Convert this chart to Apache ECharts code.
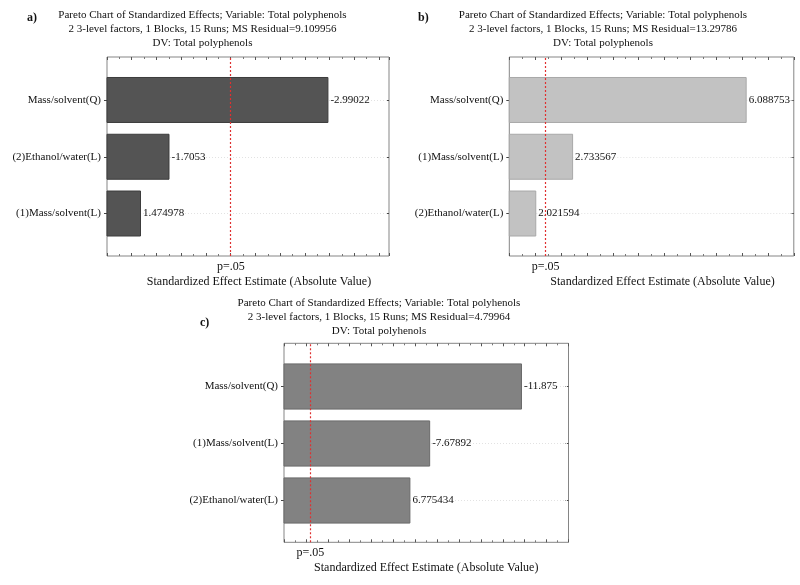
<!DOCTYPE html>
<html>
<head>
<meta charset="utf-8">
<script src="https://cdn.jsdelivr.net/npm/echarts@6/dist/echarts.min.js"></script>
<style>html,body{margin:0;padding:0;background:#fff;}#c{width:800px;height:585px;}</style>
</head>
<body>
<div id="c"></div>
<script>
// ---------- data ----------
const categoriesA = ['Mass/solvent(Q)', '(2)Ethanol/water(L)', '(1)Mass/solvent(L)'];
const effectsA = [-2.99022, -1.7053, 1.474978];
const categoriesB = ['Mass/solvent(Q)', '(1)Mass/solvent(L)', '(2)Ethanol/water(L)'];
const effectsB = [6.088753, 2.733567, 2.021594];
const categoriesC = ['Mass/solvent(Q)', '(1)Mass/solvent(L)', '(2)Ethanol/water(L)'];
const effectsC = [-11.875, -7.67892, 6.775434];
const tCrit = 2.201; // p=.05 critical value
const titleA = ['Pareto Chart of Standardized Effects; Variable: Total polyphenols', '2 3-level factors, 1 Blocks, 15 Runs; MS Residual=9.109956', 'DV: Total polyphenols'];
const titleB = ['Pareto Chart of Standardized Effects; Variable: Total polyphenols', '2 3-level factors, 1 Blocks, 15 Runs; MS Residual=13.29786', 'DV: Total polyphenols'];
const titleC = ['Pareto Chart of Standardized Effects; Variable: Total polyhenols', '2 3-level factors, 1 Blocks, 15 Runs; MS Residual=4.79964', 'DV: Total polyhenols'];
const panelLetters = ['a)', 'b)', 'c)'];
const xAxisName = 'Standardized Effect Estimate (Absolute Value)';
const pLabel = 'p=.05';

// ---------- layout / style ----------
const FONT = '"Liberation Serif", "Times New Roman", serif';
const panels = [
  {cats: categoriesA, eff: effectsA, title: titleA, letter: panelLetters[0],
   left: 107, top: 57, width: 282, height: 199, dTop: 71.6, dH: 170.3,
   min: 1.2, max: 3.48, interval: 0.2, color: '#545454', border: '#3c3c3c',
   tx: 202.5, ty: 8, lx: 27, ly: 11, namePad: 22},
  {cats: categoriesB, eff: effectsB, title: titleB, letter: panelLetters[1],
   left: 509.3, top: 57, width: 284.5, height: 199, dTop: 71.6, dH: 170.3,
   min: 1.5, max: 7.0, interval: 0.5, color: '#c2c2c2', border: '#a8a8a8',
   tx: 603, ty: 8, lx: 418, ly: 11, namePad: 22},
  {cats: categoriesC, eff: effectsC, title: titleC, letter: panelLetters[2],
   left: 284, top: 343.3, width: 284.5, height: 199, dTop: 358, dH: 171,
   min: 1, max: 14, interval: 1, color: '#828282', border: '#6a6a6a',
   tx: 379, ty: 296, lx: 200, ly: 316, namePad: 0}
];

const grid = [], xAxis = [], yAxis = [], series = [], title = [];
panels.forEach((p, k) => {
  const gF = grid.length;
  grid.push({left: p.left, top: p.top, width: p.width, height: p.height, show: true,
             borderColor: '#858585', borderWidth: 1, backgroundColor: 'transparent'});
  const gD = grid.length;
  grid.push({left: p.left, top: p.dTop, width: p.width, height: p.dH});

  const xB = xAxis.length;
  xAxis.push({gridIndex: gF, type: 'value', position: 'bottom', min: p.min, max: p.max, interval: p.interval,
    axisLine: {show: false}, splitLine: {show: false},
    axisTick: {show: true, inside: true, length: 3, lineStyle: {color: '#555'}},
    minorTick: {show: true, splitNumber: 2, length: 2, lineStyle: {color: '#777'}},
    axisLabel: {customValues: [tCrit], formatter: () => pLabel, margin: 5, fontFamily: FONT, fontSize: 12, color: '#111'},
    name: xAxisName, nameLocation: 'middle', nameGap: 20,
    nameTextStyle: {fontFamily: FONT, fontSize: 12, color: '#111', padding: [0, 0, 0, p.namePad]}});
  xAxis.push({gridIndex: gF, type: 'value', position: 'top', min: p.min, max: p.max, interval: p.interval,
    axisLine: {show: false}, splitLine: {show: false}, axisLabel: {show: false},
    axisTick: {show: true, inside: true, length: 3, lineStyle: {color: '#555'}},
    minorTick: {show: true, splitNumber: 2, length: 2, lineStyle: {color: '#777'}}});
  const xD = xAxis.length;
  xAxis.push({gridIndex: gD, type: 'value', min: p.min, max: p.max, show: false});

  const yF = yAxis.length;
  yAxis.push({gridIndex: gF, type: 'value', min: 0, max: 1, show: false});
  const yD = yAxis.length;
  yAxis.push({gridIndex: gD, type: 'category', data: p.cats, inverse: true,
    axisLine: {show: false}, splitLine: {show: false},
    axisTick: {show: true, alignWithLabel: true, length: 3, lineStyle: {color: '#444'}},
    axisLabel: {fontFamily: FONT, fontSize: 11, color: '#111', margin: 6}});
  yAxis.push({gridIndex: gD, type: 'category', data: p.cats, inverse: true, position: 'right',
    axisLine: {show: false}, splitLine: {show: false}, axisLabel: {show: false},
    axisTick: {show: true, inside: true, alignWithLabel: true, length: 3, lineStyle: {color: '#444'}}});

  series.push({type: 'bar', xAxisIndex: xD, yAxisIndex: yD, z: 2,
    data: p.eff.map(v => Math.abs(v)),
    barCategoryGap: '19%',
    itemStyle: {color: p.color, borderColor: p.border, borderWidth: 1},
    label: {show: true, position: 'right', distance: 2, fontFamily: FONT, fontSize: 11, color: '#111',
      formatter: (d) => String(p.eff[d.dataIndex])},
    markLine: {silent: true, symbol: 'none', z: 1, label: {show: false},
      lineStyle: {color: '#e2e2e2', type: [1, 2], width: 1},
      data: p.cats.map(c => ({yAxis: c}))}
  });
  series.push({type: 'line', xAxisIndex: xB, yAxisIndex: yF, data: [[tCrit, 0.5]], symbol: 'none',
    lineStyle: {opacity: 0}, z: 4,
    markLine: {silent: true, symbol: 'none', label: {show: false}, z: 4,
      lineStyle: {color: '#e03030', type: [2, 2], width: 1.2},
      data: [{xAxis: tCrit}]}});

  title.push({text: p.title.join('\n'), left: p.tx, top: p.ty, textAlign: 'center', padding: 0,
    textStyle: {fontFamily: FONT, fontSize: 11, fontWeight: 'normal', color: '#111', lineHeight: 14}});
  title.push({text: p.letter, left: p.lx, top: p.ly, padding: 0,
    textStyle: {fontFamily: FONT, fontSize: 12, fontWeight: 'bold', color: '#111', lineHeight: 14}});
});

const chart = echarts.init(document.getElementById('c'), null, {renderer: 'canvas'});
chart.setOption({animation: false, backgroundColor: '#fff', title, grid, xAxis, yAxis, series});
</script>
</body>
</html>
